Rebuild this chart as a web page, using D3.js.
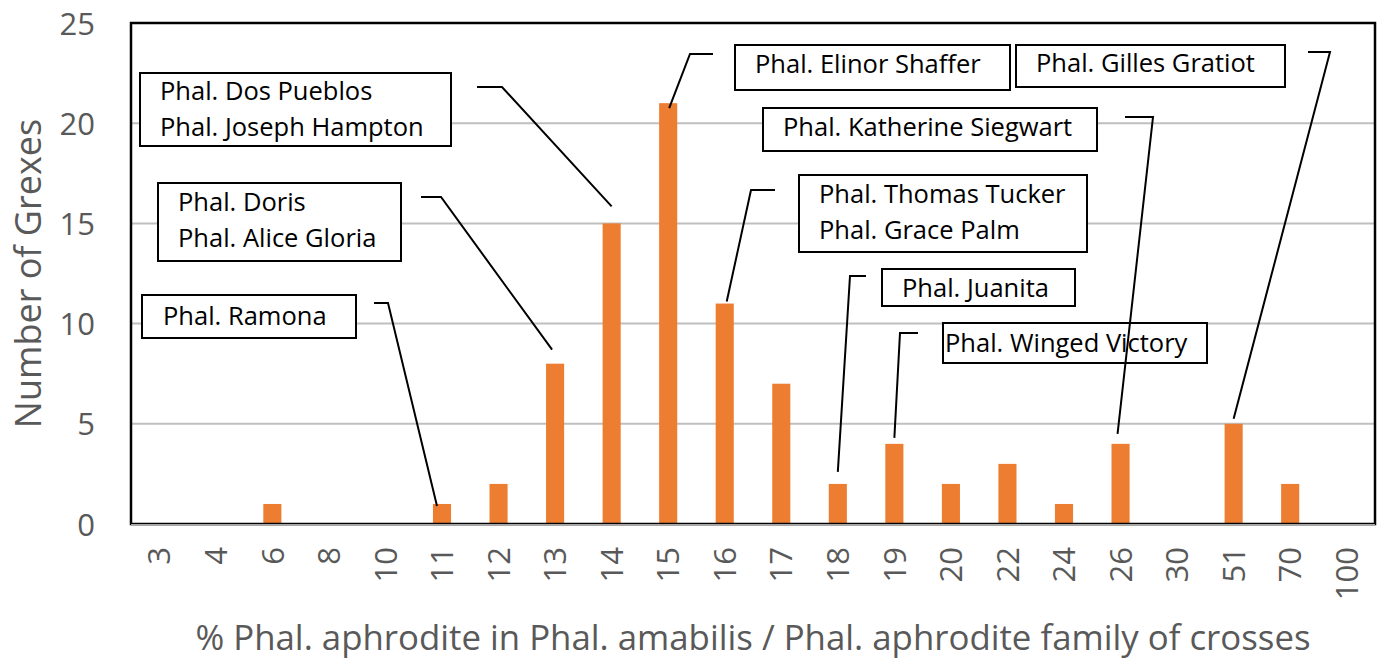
<!DOCTYPE html>
<html>
<head>
<meta charset="utf-8">
<script src="https://cdn.jsdelivr.net/npm/d3@7"></script>
<style>
  body { margin: 0; background: #fff; }
  text { font-family: "Open Sans", sans-serif; }
</style>
</head>
<body>
<svg id="chart" width="1382" height="659"></svg>
<script>
'use strict';

// --- data ---
const categories = ['3', '4', '6', '8', '10', '11', '12', '13', '14', '15', '16',
  '17', '18', '19', '20', '22', '24', '26', '30', '51', '70', '100'];
const counts = [0, 0, 1, 0, 0, 1, 2, 8, 15, 21, 11, 7, 2, 4, 2, 3, 1, 4, 0, 5, 2, 0];
const yTicks = [0, 5, 10, 15, 20, 25];

const annotationLabels = [
  ['Phal. Ramona'],
  ['Phal. Doris', 'Phal. Alice Gloria'],
  ['Phal. Dos Pueblos', 'Phal. Joseph Hampton'],
  ['Phal. Elinor Shaffer'],
  ['Phal. Thomas Tucker', 'Phal. Grace Palm'],
  ['Phal. Juanita'],
  ['Phal. Winged Victory'],
  ['Phal. Katherine Siegwart'],
  ['Phal. Gilles Gratiot']
];
const annotationTargets = ['11', '13', '14', '15', '16', '18', '19', '26', '51'];

// --- layout of the callouts (pixels) ---
const calloutLayout = [
  { box: [142, 295, 214, 43], pad: 21, base: 30, start: [374, 303], elbow: [388, 303], dx: -5, gap: -2 },
  { box: [158, 183, 243, 78], pad: 20, base: 28, start: [421, 197], elbow: [441, 197], dx: -3, gap: 14 },
  { box: [140, 73, 311, 73], pad: 20, base: 27, start: [477, 87], elbow: [502, 87], dx: 0, gap: 17 },
  { box: [735, 45, 275, 45], pad: 20, base: 28, start: [713, 54], elbow: [690, 54], dx: 1, gap: -5 },
  { box: [799, 175, 288, 77], pad: 20, base: 28, start: [775, 190], elbow: [751, 190], dx: 2, gap: 2 },
  { box: [882, 269, 193, 37], pad: 20, base: 28, start: [866, 276], elbow: [850, 276], dx: 0, gap: 12 },
  { box: [943, 323, 264, 40], pad: 2, base: 29, start: [918, 333], elbow: [900, 333], dx: 0, gap: 6 },
  { box: [763, 108, 334, 43], pad: 20, base: 28, start: [1125, 117], elbow: [1153, 117], dx: -3, gap: 10 },
  { box: [1016, 45, 269, 42], pad: 20, base: 27, start: [1308, 52], elbow: [1330, 52], dx: 0, gap: 5 }
];

const plot = { left: 131, top: 23, right: 1375, bottom: 524 };
const textGrey = '#595959';
const barColor = '#ED7D31';

const svg = d3.select('#chart');

const x = d3.scaleBand()
  .domain(categories)
  .range([plot.left, plot.right])
  .paddingInner(0.68)
  .paddingOuter(0.34);

const y = d3.scaleLinear()
  .domain([0, 25])
  .range([plot.bottom, plot.top]);

// gridlines
svg.append('g')
  .selectAll('line')
  .data(yTicks.filter(t => t > 0 && t < 25))
  .enter()
  .append('line')
  .attr('x1', plot.left)
  .attr('x2', plot.right)
  .attr('y1', d => y(d))
  .attr('y2', d => y(d))
  .attr('stroke', '#BFBFBF')
  .attr('stroke-width', 2);

// bars
svg.append('g')
  .selectAll('rect')
  .data(categories.map((c, i) => ({ cat: c, value: counts[i] })))
  .enter()
  .append('rect')
  .attr('x', d => x(d.cat))
  .attr('y', d => y(d.value))
  .attr('width', x.bandwidth())
  .attr('height', d => y(0) - y(d.value))
  .attr('fill', barColor);

// frame
svg.append('rect')
  .attr('x', plot.left)
  .attr('y', plot.top)
  .attr('width', plot.right - plot.left)
  .attr('height', plot.bottom - plot.top)
  .attr('fill', 'none')
  .attr('stroke', '#000')
  .attr('stroke-width', 2.5);

// x axis line
svg.append('line')
  .attr('x1', plot.left)
  .attr('x2', plot.right)
  .attr('y1', plot.bottom + 1)
  .attr('y2', plot.bottom + 1)
  .attr('stroke', '#A6A6A6')
  .attr('stroke-width', 2);

// y axis
const yAxis = svg.append('g')
  .attr('transform', `translate(${plot.left},0)`)
  .call(d3.axisLeft(y).tickValues(yTicks).tickSize(0).tickPadding(36));
yAxis.select('.domain').remove();
yAxis.selectAll('text')
  .attr('fill', textGrey)
  .style('font-size', '31px')
  .attr('dy', '0.36em');

// x axis
const xAxis = svg.append('g')
  .attr('transform', `translate(0,${plot.bottom})`)
  .call(d3.axisBottom(x).tickSize(0));
xAxis.select('.domain').remove();
xAxis.selectAll('text')
  .attr('fill', textGrey)
  .style('font-size', '31px')
  .attr('text-anchor', 'end')
  .attr('transform', 'rotate(-90)')
  .attr('x', -23)
  .attr('y', 0)
  .attr('dy', '0.36em');

// axis titles
svg.append('text')
  .attr('transform', `translate(41,${(plot.top + plot.bottom) / 2}) rotate(-90)`)
  .attr('text-anchor', 'middle')
  .attr('fill', textGrey)
  .style('font-size', '36px')
  .text('Number of Grexes');

svg.append('text')
  .attr('x', (plot.left + plot.right) / 2)
  .attr('y', 650)
  .attr('text-anchor', 'middle')
  .attr('fill', textGrey)
  .style('font-size', '34.8px')
  .text('% Phal. aphrodite in Phal. amabilis / Phal. aphrodite family of crosses');

// callouts
const callouts = svg.append('g');
annotationLabels.forEach((lines, i) => {
  const lay = calloutLayout[i];
  const cat = annotationTargets[i];
  const value = counts[categories.indexOf(cat)];
  const endX = x(cat) + x.bandwidth() / 2 + lay.dx;
  const endY = y(value) - lay.gap;

  callouts.append('polyline')
    .attr('points', [lay.start, lay.elbow, [endX, endY]].map(p => p.join(',')).join(' '))
    .attr('fill', 'none')
    .attr('stroke', '#000')
    .attr('stroke-width', 2);

  callouts.append('rect')
    .attr('x', lay.box[0])
    .attr('y', lay.box[1])
    .attr('width', lay.box[2])
    .attr('height', lay.box[3])
    .attr('fill', '#fff')
    .attr('stroke', '#000')
    .attr('stroke-width', 2);

  lines.forEach((line, j) => {
    callouts.append('text')
      .attr('x', lay.box[0] + lay.pad)
      .attr('y', lay.box[1] + lay.base + j * 36)
      .attr('fill', '#000')
      .style('font-size', '25.5px')
      .text(line);
  });
});
</script>
</body>
</html>
